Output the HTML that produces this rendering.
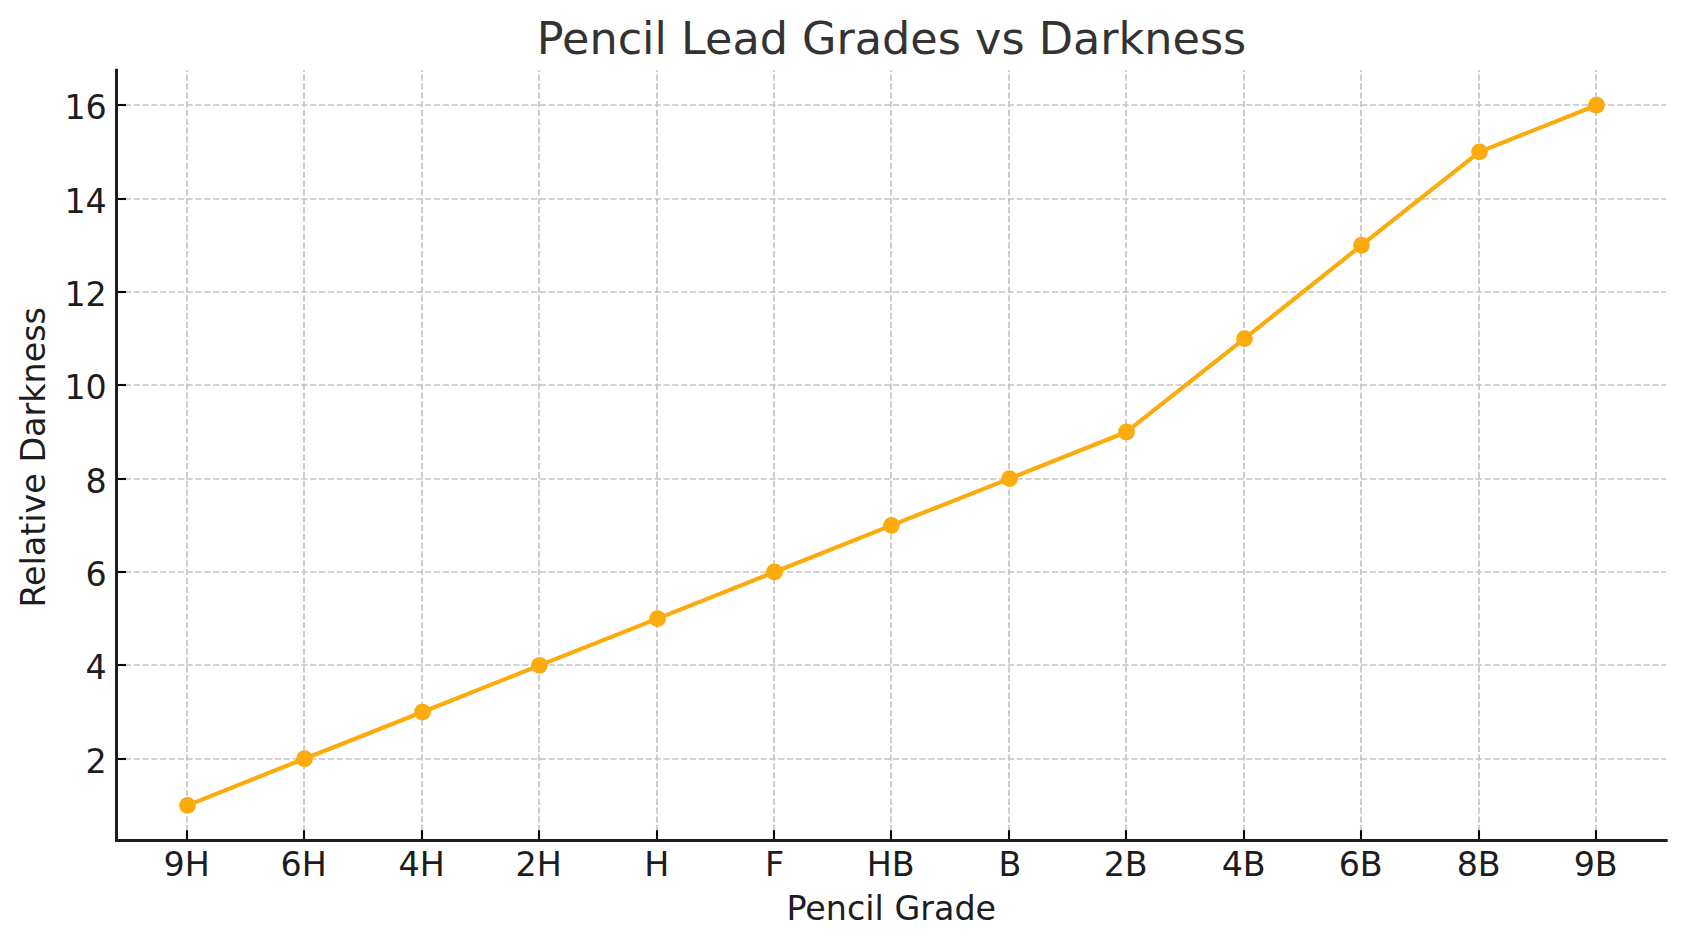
<!DOCTYPE html>
<html lang="en"><head><meta charset="utf-8"><title>Pencil Lead Grades vs Darkness</title>
<style>html,body{margin:0;padding:0;background:#fff;overflow:hidden;}svg{display:block;}text{font-family:"DejaVu Sans","Liberation Sans",sans-serif;}</style></head><body>
<svg width="1686" height="947" viewBox="0 0 1686 947">
<rect width="1686" height="947" fill="#fff"/>
<g stroke="#c4c4c4" stroke-width="1.7" stroke-dasharray="6.3 2.53" fill="none">
<line x1="187" y1="840.20" x2="187" y2="70.19"/>
<line x1="304" y1="840.20" x2="304" y2="70.19"/>
<line x1="422" y1="840.20" x2="422" y2="70.19"/>
<line x1="539" y1="840.20" x2="539" y2="70.19"/>
<line x1="657" y1="840.20" x2="657" y2="70.19"/>
<line x1="774" y1="840.20" x2="774" y2="70.19"/>
<line x1="891" y1="840.20" x2="891" y2="70.19"/>
<line x1="1009" y1="840.20" x2="1009" y2="70.19"/>
<line x1="1126" y1="840.20" x2="1126" y2="70.19"/>
<line x1="1244" y1="840.20" x2="1244" y2="70.19"/>
<line x1="1361" y1="840.20" x2="1361" y2="70.19"/>
<line x1="1479" y1="840.20" x2="1479" y2="70.19"/>
<line x1="1596" y1="840.20" x2="1596" y2="70.19"/>
<line x1="115.90" y1="759" x2="1666.20" y2="759"/>
<line x1="115.90" y1="665" x2="1666.20" y2="665"/>
<line x1="115.90" y1="572" x2="1666.20" y2="572"/>
<line x1="115.90" y1="479" x2="1666.20" y2="479"/>
<line x1="115.90" y1="385" x2="1666.20" y2="385"/>
<line x1="115.90" y1="292" x2="1666.20" y2="292"/>
<line x1="115.90" y1="199" x2="1666.20" y2="199"/>
<line x1="115.90" y1="105" x2="1666.20" y2="105"/>
</g>
<polyline points="187.50,805.40 304.50,758.72 422.50,712.04 539.50,665.36 657.50,618.68 774.50,572.00 891.50,525.32 1009.50,478.64 1126.50,431.96 1244.50,338.60 1361.50,245.24 1479.50,151.88 1596.50,105.20" fill="none" stroke="#fbab0c" stroke-width="4.17" stroke-linejoin="round" stroke-linecap="round"/>
<g fill="#fbab0c">
<circle cx="187.50" cy="805.40" r="8.4"/>
<circle cx="304.50" cy="758.72" r="8.4"/>
<circle cx="422.50" cy="712.04" r="8.4"/>
<circle cx="539.50" cy="665.36" r="8.4"/>
<circle cx="657.50" cy="618.68" r="8.4"/>
<circle cx="774.50" cy="572.00" r="8.4"/>
<circle cx="891.50" cy="525.32" r="8.4"/>
<circle cx="1009.50" cy="478.64" r="8.4"/>
<circle cx="1126.50" cy="431.96" r="8.4"/>
<circle cx="1244.50" cy="338.60" r="8.4"/>
<circle cx="1361.50" cy="245.24" r="8.4"/>
<circle cx="1479.50" cy="151.88" r="8.4"/>
<circle cx="1596.50" cy="105.20" r="8.4"/>
</g>
<g stroke="#060606" stroke-width="2.1">
<line x1="187" y1="840.50" x2="187" y2="830.20"/>
<line x1="304" y1="840.50" x2="304" y2="830.20"/>
<line x1="422" y1="840.50" x2="422" y2="830.20"/>
<line x1="539" y1="840.50" x2="539" y2="830.20"/>
<line x1="657" y1="840.50" x2="657" y2="830.20"/>
<line x1="774" y1="840.50" x2="774" y2="830.20"/>
<line x1="891" y1="840.50" x2="891" y2="830.20"/>
<line x1="1009" y1="840.50" x2="1009" y2="830.20"/>
<line x1="1126" y1="840.50" x2="1126" y2="830.20"/>
<line x1="1244" y1="840.50" x2="1244" y2="830.20"/>
<line x1="1361" y1="840.50" x2="1361" y2="830.20"/>
<line x1="1479" y1="840.50" x2="1479" y2="830.20"/>
<line x1="1596" y1="840.50" x2="1596" y2="830.20"/>
<line x1="116.50" y1="759" x2="126.00" y2="759"/>
<line x1="116.50" y1="665" x2="126.00" y2="665"/>
<line x1="116.50" y1="572" x2="126.00" y2="572"/>
<line x1="116.50" y1="479" x2="126.00" y2="479"/>
<line x1="116.50" y1="385" x2="126.00" y2="385"/>
<line x1="116.50" y1="292" x2="126.00" y2="292"/>
<line x1="116.50" y1="199" x2="126.00" y2="199"/>
<line x1="116.50" y1="105" x2="126.00" y2="105"/>
</g>
<g stroke="#1e1e1e" stroke-width="3.0" stroke-linecap="square" fill="none">
<line x1="116.50" y1="70.19" x2="116.50" y2="840.50"/>
<line x1="116.50" y1="840.50" x2="1666.20" y2="840.50"/>
</g>
<g font-size="33.33" fill="#1d1d1d" text-anchor="middle">
<text x="186.70" y="875.7">9H</text>
<text x="303.70" y="875.7">6H</text>
<text x="421.70" y="875.7">4H</text>
<text x="538.70" y="875.7">2H</text>
<text x="656.70" y="875.7">H</text>
<text x="774.70" y="875.7">F</text>
<text x="890.70" y="875.7">HB</text>
<text x="1009.90" y="875.7">B</text>
<text x="1125.70" y="875.7">2B</text>
<text x="1243.70" y="875.7">4B</text>
<text x="1360.70" y="875.7">6B</text>
<text x="1478.70" y="875.7">8B</text>
<text x="1595.70" y="875.7">9B</text>
</g>
<g font-size="33.33" fill="#1d1d1d" text-anchor="end">
<text x="106.8" y="772.60">2</text>
<text x="106.8" y="678.60">4</text>
<text x="106.8" y="585.60">6</text>
<text x="106.8" y="492.60">8</text>
<text x="106.8" y="398.60">10</text>
<text x="106.8" y="305.60">12</text>
<text x="106.8" y="212.60">14</text>
<text x="106.8" y="118.60">16</text>
</g>
<text x="891.25" y="920" font-size="33.33" fill="#1d1d1d" text-anchor="middle">Pencil Grade</text>
<text transform="translate(45.3 457.35) rotate(-90)" font-size="33.33" fill="#1d1d1d" text-anchor="middle">Relative Darkness</text>
<text x="891.55" y="53.6" font-size="44.5" fill="#333" text-anchor="middle">Pencil Lead Grades vs Darkness</text>
</svg></body></html>
